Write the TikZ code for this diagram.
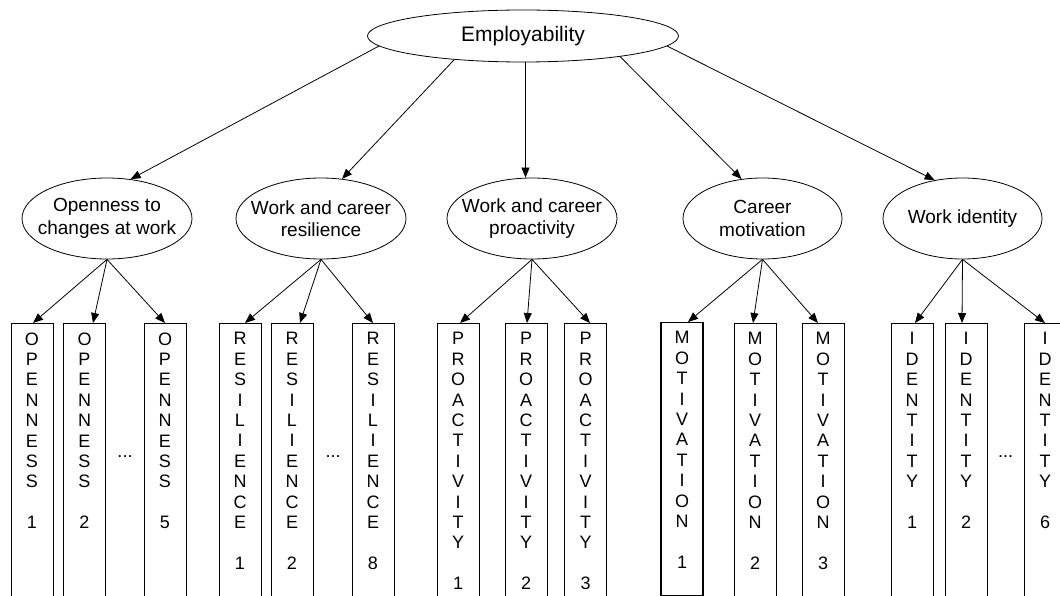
\documentclass[tikz,border=0pt]{standalone}
\usepackage{fontspec}
\setmainfont{Liberation Sans}
\usetikzlibrary{arrows.meta,shapes.geometric}
\tikzset{
  arr/.style={draw=black, line width=0.8pt, -{Triangle[length=10pt,width=8pt]}},
  topell/.style={ellipse, draw, line width=0.8pt, minimum width=311pt, minimum height=52pt, inner sep=0pt, font=\fontsize{21}{24}\selectfont},
  midell/.style={ellipse, draw, line width=0.8pt, minimum height=81pt, inner sep=0pt},
  midtxt/.style={inner sep=0pt, align=center, font=\fontsize{19}{22.5}\selectfont},
  itembox/.style={rectangle, draw, line width=0.9pt, minimum width=42pt, minimum height=277pt, anchor=north, inner sep=0pt},
  vtext/.style={anchor=north, inner sep=0pt, align=center, yshift=-9.4pt, font=\fontsize{18}{20.4}\selectfont},
  dots/.style={inner sep=0pt, font=\fontsize{18}{20.4}\selectfont}
}
\begin{document}
\begin{tikzpicture}[x=1pt,y=-1pt]
\useasboundingbox (0,0) rectangle (1060,596);
\clip (0,0) rectangle (1060,596);
\fill[white] (0,0) rectangle (1060,596);

% top
\node[topell] (emp) at (523,36) {Employability};

% middle ellipses
\node[midell, minimum width=170pt] (open) at (107,218.5) {};
\node[midtxt] (open-t) at (open) {Openness to\\changes at work};
\node[midell, minimum width=170pt] (res) at (321,218.5) {};
\node[midtxt] (res-t) at (res) {Work and career\\resilience};
\node[midell, minimum width=170pt] (pro) at (532,218.5) {};
\node[midtxt] (pro-t) at (pro) {Work and career\\proactivity};
\node[midell, minimum width=159pt] (car) at (762.5,218.5) {};
\node[midtxt] (car-t) at (car) {Career\\motivation};
\node[midell, minimum width=159pt] (ide) at (962.5,218.5) {};
\node[midtxt] (ide-t) at (ide) {Work identity};

% top arrows
\draw[arr] (emp.184) -- (open.59);
\draw[arr] (emp.199) -- (res.62);
\draw[arr] ([xshift=2.5pt]emp.south) -- ([xshift=-6.5pt]pro.north);
\draw[arr] (emp.348) -- (car.118);
\draw[arr] (emp.356) -- (ide.126);

% boxes
\node[itembox, minimum height=280pt] (o1) at (32,323) {};
\node[vtext] (o1-t) at (o1.north) {O\\P\\E\\N\\N\\E\\S\\S\\[20.4pt]1};
\node[itembox, minimum height=280pt] (o2) at (84.5,323) {};
\node[vtext] (o2-t) at (o2.north) {O\\P\\E\\N\\N\\E\\S\\S\\[20.4pt]2};
\node[itembox, minimum height=280pt] (o5) at (165,323) {};
\node[vtext] (o5-t) at (o5.north) {O\\P\\E\\N\\N\\E\\S\\S\\[20.4pt]5};
\node[dots] (d1) at (125,457) {...};

\node[itembox, minimum height=280pt] (r1) at (240,323) {};
\node[vtext] (r1-t) at (r1.north) {R\\E\\S\\I\\L\\I\\E\\N\\C\\E\\[20.4pt]1};
\node[itembox, minimum height=280pt] (r2) at (292,323) {};
\node[vtext] (r2-t) at (r2.north) {R\\E\\S\\I\\L\\I\\E\\N\\C\\E\\[20.4pt]2};
\node[itembox, minimum height=280pt] (r8) at (373,323) {};
\node[vtext] (r8-t) at (r8.north) {R\\E\\S\\I\\L\\I\\E\\N\\C\\E\\[20.4pt]8};
\node[dots] (d2) at (333,457) {...};

\node[itembox, minimum height=280pt] (p1) at (458,323) {};
\node[vtext] (p1-t) at (p1.north) {P\\R\\O\\A\\C\\T\\I\\V\\I\\T\\Y\\[20.4pt]1};
\node[itembox, minimum height=280pt] (p2) at (526,323) {};
\node[vtext] (p2-t) at (p2.north) {P\\R\\O\\A\\C\\T\\I\\V\\I\\T\\Y\\[20.4pt]2};
\node[itembox, minimum height=280pt] (p3) at (585.5,323) {};
\node[vtext] (p3-t) at (p3.north) {P\\R\\O\\A\\C\\T\\I\\V\\I\\T\\Y\\[20.4pt]3};

\node[itembox, minimum height=272.5pt, line width=1.1pt] (m1) at (682,322) {};
\node[vtext] (m1-t) at (m1.north) {M\\O\\T\\I\\V\\A\\T\\I\\O\\N\\[20.4pt]1};
\node[itembox, minimum height=280pt] (m2) at (755,323) {};
\node[vtext] (m2-t) at (m2.north) {M\\O\\T\\I\\V\\A\\T\\I\\O\\N\\[20.4pt]2};
\node[itembox, minimum height=280pt] (m3) at (823,323) {};
\node[vtext] (m3-t) at (m3.north) {M\\O\\T\\I\\V\\A\\T\\I\\O\\N\\[20.4pt]3};

\node[itembox, minimum height=280pt] (i1) at (912,323) {};
\node[vtext] (i1-t) at (i1.north) {I\\D\\E\\N\\T\\I\\T\\Y\\[20.4pt]1};
\node[itembox, minimum height=280pt] (i2) at (966,323) {};
\node[vtext] (i2-t) at (i2.north) {I\\D\\E\\N\\T\\I\\T\\Y\\[20.4pt]2};
\node[itembox, minimum height=280pt] (i6) at (1045,323) {};
\node[vtext] (i6-t) at (i6.north) {I\\D\\E\\N\\T\\I\\T\\Y\\[20.4pt]6};
\node[dots] (d3) at (1005.5,457) {...};

% lower arrows
\draw[arr] (open.south) -- ([xshift=1pt]o1.north);
\draw[arr] (open.south) -- ([xshift=8.5pt]o2.north);
\draw[arr] (open.south) -- (o5.north);
\draw[arr] (res.south) -- ([xshift=5pt]r1.north);
\draw[arr] (res.south) -- ([xshift=8pt]r2.north);
\draw[arr] (res.south) -- (r8.north);
\draw[arr] (pro.south) -- ([xshift=2pt]p1.north);
\draw[arr] (pro.south) -- ([xshift=1pt]p2.north);
\draw[arr] (pro.south) -- ([xshift=4.5pt]p3.north);
\draw[arr] (car.south) -- ([xshift=6pt]m1.north);
\draw[arr] (car.south) -- ([xshift=-2pt]m2.north);
\draw[arr] (car.south) -- ([xshift=-5pt]m3.north);
\draw[arr] (ide.south) -- ([xshift=3pt]i1.north);
\draw[arr] (ide.south) -- ([xshift=-4pt]i2.north);
\draw[arr] (ide.south) -- (i6.north);
\end{tikzpicture}
\end{document}
